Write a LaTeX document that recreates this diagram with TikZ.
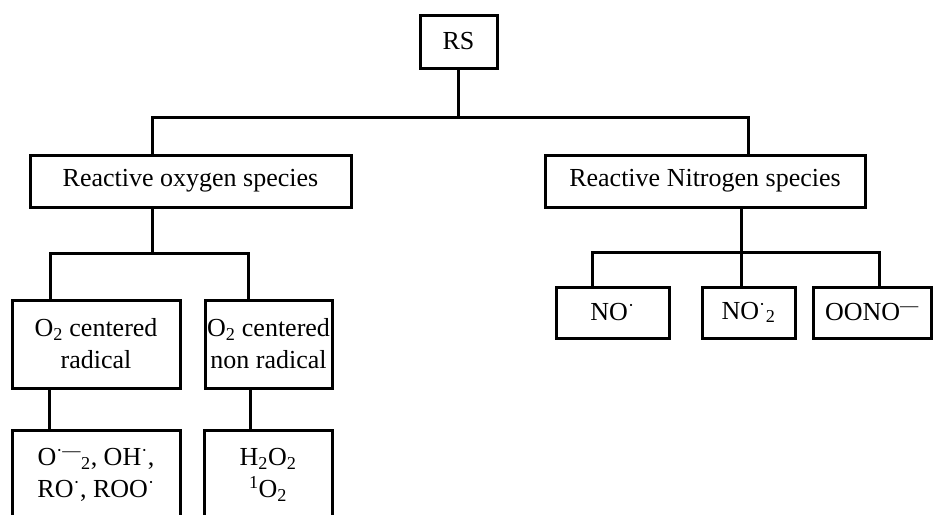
\documentclass[tikz,border=0pt]{standalone}
\usepackage{fontspec}
\setmainfont{Liberation Serif}

\begin{document}
\begin{tikzpicture}[
			x=1pt,y=-1pt,
			box/.style={
				draw=black,
				line width=3pt,
				inner sep=0pt,
				align=center,
				font=\fontsize{26}{32}\selectfont
			},
			link/.style={
				draw=black,
				line width=3pt
			}
			]
			\useasboundingbox (0,0) rectangle (934,514);
			\clip (0,0) rectangle (934,514);
			% top
			\node[box,minimum width=77pt,minimum height=53pt](rs) at (458.5,41.5){RS};
			\node[box,minimum width=321pt,minimum height=52pt](ros) at (190.5,181){Reactive oxygen species};
			\node[box,minimum width=320pt,minimum height=52pt](rns) at (705,181){Reactive Nitrogen species};
			% oxygen branch
			\node[box,minimum width=168pt,minimum height=88pt](rad) at (96,344){O\textsubscript{2} centered\\radical};
			\node[box,minimum width=127pt,minimum height=88pt](nrad) at (268.5,344){O\textsubscript{2} centered\\non radical};
			\node[box,minimum width=168pt,minimum height=90pt](rads) at (96,475){O\textsuperscript{·—}\textsubscript{2}, OH\textsuperscript{·},\\RO\textsuperscript{·}, ROO\textsuperscript{·}};
			\node[box,minimum width=128pt,minimum height=90pt](nrads) at (268,475){H\textsubscript{2}O\textsubscript{2}\\\textsuperscript{1}O\textsubscript{2}};
			% nitrogen branch
			\node[box,minimum width=113pt,minimum height=51pt](no) at (612.5,312.5){NO\textsuperscript{·}};
			\node[box,minimum width=93pt,minimum height=51pt](notwo) at (748.5,312.5){NO\textsuperscript{·}\textsubscript{2}};
			\node[box,minimum width=118pt,minimum height=51pt](oono) at (872,312.5){OONO\textsuperscript{—}};
			% bus points
			\coordinate(t1) at (152,117);
			\coordinate(t2) at (748,117);
			\coordinate(u1) at (50,253);
			\coordinate(u2) at (248,253);
			\coordinate(v1) at (592,252);
			\coordinate(v2) at (741,252);
			\coordinate(v3) at (879,252);
			\coordinate(w1) at (49,0);
			\coordinate(w2) at (250,0);
			\draw[link](rs)--(rs.south |- t1);
			\draw[link](t1 |- ros.north)--(t1)--(t2)--(t2 |- rns.north);
			\draw[link](t1 |- ros.south)--(t1 |- u1);
			\draw[link](u1 |- rad.north)--(u1)--(u2)--(u2 |- nrad.north);
			\draw[link](w1 |- rad.south)--(w1 |- rads.north);
			\draw[link](w2 |- nrad.south)--(w2 |- nrads.north);
			\draw[link](v2 |- rns.south)--(v2 |- notwo.north);
			\draw[link](v1 |- no.north)--(v1)--(v3)--(v3 |- oono.north);
		\end{tikzpicture}
\end{document}
